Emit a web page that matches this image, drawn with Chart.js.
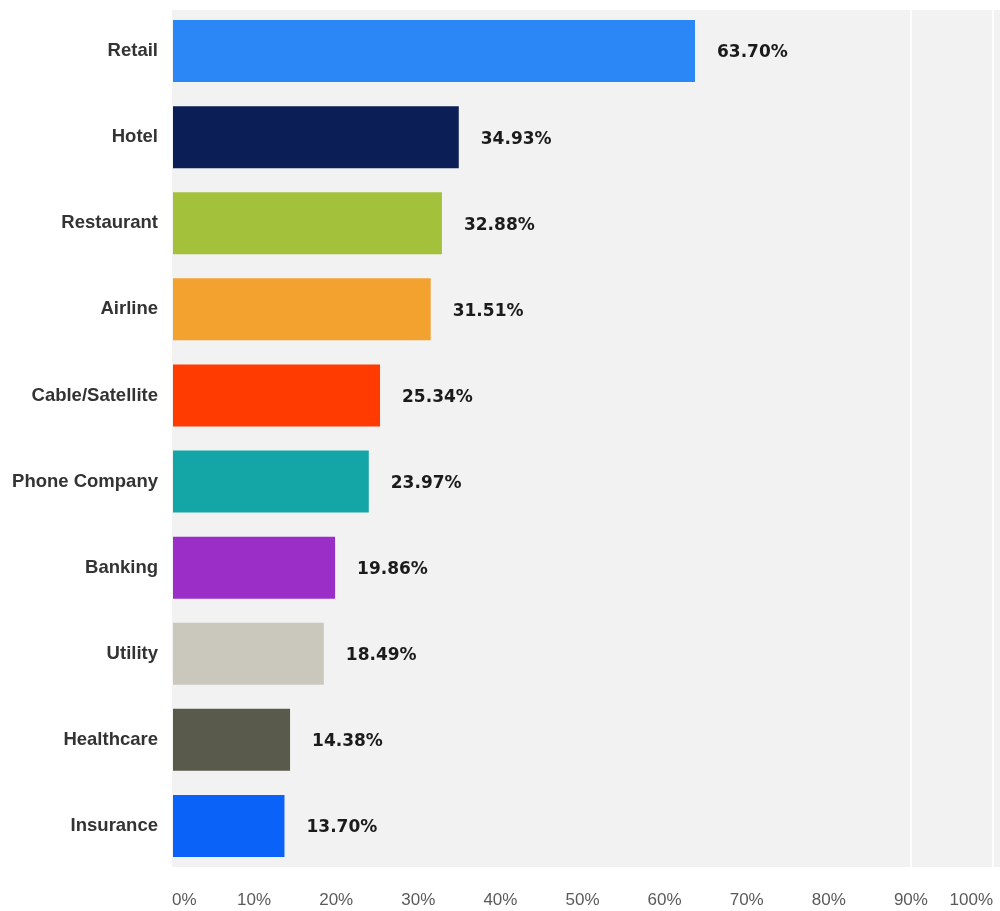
<!DOCTYPE html>
<html>
<head>
<meta charset="utf-8">
<script src="https://cdn.jsdelivr.net/npm/chart.js@4.4.1/dist/chart.umd.min.js"></script>
<style>
  html, body { margin: 0; padding: 0; background: #ffffff; }
  #wrap { width: 1000px; height: 911px; position: relative; }
</style>
</head>
<body>
<div id="wrap"><canvas id="industryChart"></canvas></div>
<script>
const categories = ['Retail', 'Hotel', 'Restaurant', 'Airline', 'Cable/Satellite', 'Phone Company', 'Banking', 'Utility', 'Healthcare', 'Insurance'];
const shares = [63.70, 34.93, 32.88, 31.51, 25.34, 23.97, 19.86, 18.49, 14.38, 13.70];
const barColors = ['#2b86f6', '#0b1f56', '#a4c13b', '#f3a12f', '#ff3b02', '#14a6a6', '#9c2ec8', '#cac7bc', '#5a5a4c', '#0a62f8'];
const xTicks = [0, 10, 20, 30, 40, 50, 60, 70, 80, 90, 100];

document.addEventListener('DOMContentLoaded', () => {
  const ctx = document.getElementById('industryChart').getContext('2d');

  // gray plot panel behind the bars
  const panelBackground = {
    id: 'panelBackground',
    beforeDraw(chart) {
      const { ctx, chartArea } = chart;
      ctx.save();
      ctx.fillStyle = '#f2f2f2';
      ctx.fillRect(chartArea.left, chartArea.top + 2, chart.width - chartArea.left, chartArea.bottom - chartArea.top - 4);
      ctx.restore();
    }
  };

  // percentage text to the right of each bar
  const valueLabels = {
    id: 'valueLabels',
    afterDatasetsDraw(chart) {
      const { ctx } = chart;
      const meta = chart.getDatasetMeta(0);
      ctx.save();
      ctx.font = 'bold 17px "DejaVu Sans", Verdana, sans-serif';
      ctx.fillStyle = '#1b1b1b';
      ctx.textAlign = 'left';
      ctx.textBaseline = 'middle';
      meta.data.forEach((bar, i) => {
        ctx.fillText(shares[i].toFixed(2) + '%', bar.x + 22, bar.y + 2);
      });
      ctx.restore();
    }
  };

  const myChart = new Chart(ctx, {
    type: 'bar',
    data: {
      labels: categories,
      datasets: [{
        data: shares,
        backgroundColor: barColors,
        borderWidth: 0,
        categoryPercentage: 1,
        barPercentage: 0.72
      }]
    },
    options: {
      indexAxis: 'y',
      responsive: true,
      maintainAspectRatio: false,
      animation: false,
      layout: { padding: { top: 8, right: 7, bottom: 0, left: 0 } },
      scales: {
        x: {
          min: 0,
          max: 100,
          afterBuildTicks: (scale) => {
            scale.ticks = xTicks.map(v => ({ value: v }));
          },
          afterFit: (scale) => {
            scale.height = 42;
            scale.paddingLeft = 0;
            scale.paddingRight = 0;
          },
          grid: {
            drawTicks: false,
            color: (c) => (c.tick && c.tick.value >= 90 ? 'rgba(255,255,255,0.85)' : 'rgba(0,0,0,0)'),
            lineWidth: 2
          },
          border: { display: false },
          ticks: {
            align: 'inner',
            padding: 21,
            color: '#5a5a5a',
            font: { size: 17, family: '"Liberation Sans", Arial, sans-serif' },
            callback: (value) => value + '%'
          }
        },
        y: {
          afterFit: (scale) => {
            scale.width = 172;
            scale.paddingTop = 0;
            scale.paddingBottom = 0;
          },
          grid: { display: false, drawTicks: false },
          border: { display: false },
          ticks: {
            padding: 14,
            color: '#333333',
            font: { size: 18.5, weight: 'bold', family: '"Liberation Sans", Arial, sans-serif' }
          }
        }
      },
      plugins: {
        legend: { display: false },
        tooltip: { enabled: false }
      }
    },
    plugins: [panelBackground, valueLabels]
  });
});
</script>
</body>
</html>
